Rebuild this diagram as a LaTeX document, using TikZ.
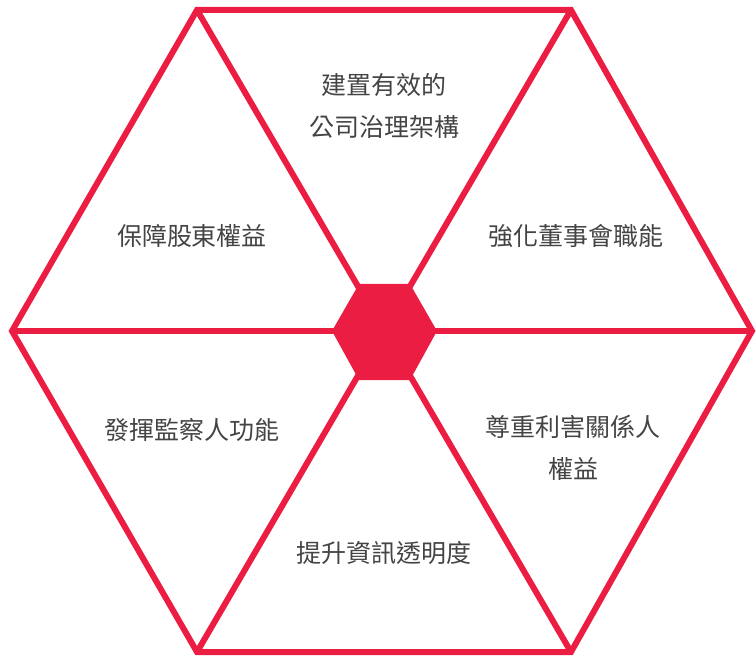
\documentclass[tikz,border=0pt]{standalone}
\usepackage{fontspec}
\newfontfamily\cjk{Noto Sans CJK TC}
\definecolor{govred}{RGB}{236,29,67}
\definecolor{govtext}{RGB}{68,68,68}
\tikzset{
    edge/.style={govred, line width=3pt, line join=miter},
    label/.style={font=\cjk\fontsize{12.5}{21}\selectfont, text=govtext, align=center}
}
\begin{document}
\begin{tikzpicture}[x=0.5pt, y=-0.5pt]
    \useasboundingbox (0, 0) rectangle (756, 658);

    % Outer corners
    \coordinate (hub) at (384, 331);
    \coordinate (tl) at (197, 10);
    \coordinate (tr) at (571, 10);
    \coordinate (r) at (752, 331);
    \coordinate (br) at (571, 652);
    \coordinate (bl) at (197, 652);
    \coordinate (l) at (12, 331);

    % Outer hexagon
    \draw[edge] (tl) -- (tr) -- (r) -- (br) -- (bl) -- (l) -- cycle;

    % Spokes
    \foreach \c in {tl, tr, r, br, bl, l}
        \draw[edge] (hub) -- (\c);

    % Centre hexagon
    \fill[govred] (332, 331) -- (359, 284) -- (410, 284) -- (437, 331) -- (410, 380) -- (359, 380) -- cycle;

    % Labels
    \node[label] (top) at (384, 106) {建置有效的\\公司治理架構};
    \node[label] (upleft) at (192, 236) {保障股東權益};
    \node[label] (upright) at (576, 236) {強化董事會職能};
    \node[label] (lowleft) at (192, 430) {發揮監察人功能};
    \node[label] (lowright) at (573, 448) {尊重利害關係人\\權益};
    \node[label] (bottom) at (384, 553) {提升資訊透明度};
\end{tikzpicture}
\end{document}
